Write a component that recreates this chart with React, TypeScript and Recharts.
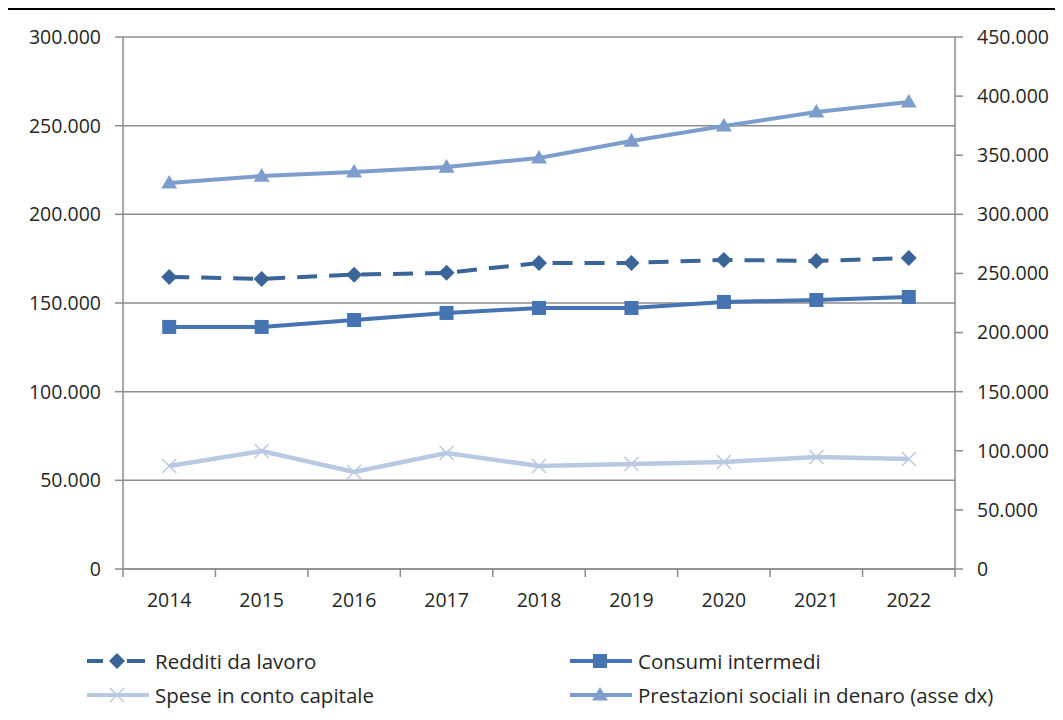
import React from 'react';
import { ComposedChart, Line, XAxis, YAxis, CartesianGrid } from 'recharts';

const years = ['2014', '2015', '2016', '2017', '2018', '2019', '2020', '2021', '2022'];
const redditiDaLavoro = [164700, 163600, 166000, 167000, 172600, 172600, 174300, 173700, 175400];
const consumiIntermedi = [136500, 136500, 140400, 144400, 147200, 147200, 150600, 151700, 153400];
const speseContoCapitale = [58100, 66500, 54700, 65400, 58100, 59200, 60300, 63200, 62000];
const prestazioniSociali = [326500, 332400, 335800, 340000, 347700, 362000, 374700, 386600, 395000];
const leftTicks = [0, 50000, 100000, 150000, 200000, 250000, 300000];
const rightTicks = [0, 50000, 100000, 150000, 200000, 250000, 300000, 350000, 400000, 450000];

const data = years.map((y, i) => ({
  year: y,
  redditi: redditiDaLavoro[i],
  consumi: consumiIntermedi[i],
  spese: speseContoCapitale[i],
  prestazioni: prestazioniSociali[i],
}));

const C_REDDITI = '#3B6598';
const C_CONSUMI = '#4673B1';
const C_SPESE = '#B9C9E1';
const C_PREST = '#7D9DCD';
const AXIS = '#8C8C8C';
const FONT = '"Open Sans", "DejaVu Sans", sans-serif';
const TEXT = '#262626';
const FS = 19.5;
const LFS = 20.5;

const fmt = (v: number) => String(v).replace(/\B(?=(\d{3})+(?!\d))/g, '.');

const Diamond = (props: any) => {
  const { cx, cy, fill } = props;
  if (cx == null || cy == null) return null;
  const r = 8;
  return <path d={`M${cx},${cy - r}L${cx + r},${cy}L${cx},${cy + r}L${cx - r},${cy}Z`} fill={fill} />;
};
const Square = (props: any) => {
  const { cx, cy, fill } = props;
  if (cx == null || cy == null) return null;
  const r = 7;
  return <rect x={cx - r} y={cy - r} width={2 * r} height={2 * r} fill={fill} />;
};
const Triangle = (props: any) => {
  const { cx, cy, fill } = props;
  if (cx == null || cy == null) return null;
  const r = 8;
  return <path d={`M${cx},${cy - r}L${cx + r},${cy + r * 0.7}L${cx - r},${cy + r * 0.7}Z`} fill={fill} />;
};
const Cross = (props: any) => {
  const { cx, cy, stroke } = props;
  if (cx == null || cy == null) return null;
  const r = 7;
  return (
    <g stroke={stroke} strokeWidth={1.5}>
      <line x1={cx - r} y1={cy - r} x2={cx + r} y2={cy + r} />
      <line x1={cx - r} y1={cy + r} x2={cx + r} y2={cy - r} />
    </g>
  );
};

const XTick = (props: any) => {
  const { x, y, payload, index } = props;
  const off = payload?.offset ?? 0;
  const axisY = y - 8;
  return (
    <g>
      <line x1={x - off} y1={axisY} x2={x - off} y2={axisY + 8} stroke={AXIS} strokeWidth={1.5} />
      {index === years.length - 1 && (
        <line x1={x + off} y1={axisY} x2={x + off} y2={axisY + 8} stroke={AXIS} strokeWidth={1.5} />
      )}
      <text x={x} y={y + 30} textAnchor="middle" fill={TEXT} fontSize={FS} fontFamily={FONT}>
        {payload.value}
      </text>
    </g>
  );
};

const legendItems = [
  { name: 'Redditi da lavoro', color: C_REDDITI, dash: '14 8', marker: 'diamond' },
  { name: 'Consumi intermedi', color: C_CONSUMI, dash: undefined, marker: 'square' },
  { name: 'Spese in conto capitale', color: C_SPESE, dash: undefined, marker: 'cross' },
  { name: 'Prestazioni sociali in denaro (asse dx)', color: C_PREST, dash: undefined, marker: 'triangle' },
];

const LegendSample = ({ item }: any) => {
  const cx = 30;
  const cy = 10;
  let m: any = null;
  if (item.marker === 'diamond') m = <Diamond cx={cx} cy={cy} fill={item.color} />;
  if (item.marker === 'square') m = <Square cx={cx} cy={cy} fill={item.color} />;
  if (item.marker === 'cross') m = <Cross cx={cx} cy={cy} stroke={item.color} />;
  if (item.marker === 'triangle') m = <Triangle cx={cx} cy={cy} fill={item.color} />;
  return (
    <svg width={62} height={20} style={{ display: 'block' }}>
      {item.dash ? (
        <g>
          <line x1={0} y1={cy} x2={16} y2={cy} stroke={item.color} strokeWidth={4} />
          <line x1={40} y1={cy} x2={58} y2={cy} stroke={item.color} strokeWidth={4} />
        </g>
      ) : (
        <line x1={0} y1={cy} x2={62} y2={cy} stroke={item.color} strokeWidth={4} />
      )}
      {m}
    </svg>
  );
};

export default function App() {
  return (
    <div style={{ position: 'relative', width: 1055, height: 704, fontFamily: FONT, background: '#fff' }}>
      <div style={{ position: 'absolute', left: -1, top: 0, width: 1056, height: 2, background: '#000' }} />
      <div style={{ position: 'absolute', left: 0, top: 0 }}>
        <ComposedChart width={1055} height={620} data={data} margin={{ top: 29, right: 0, left: 0, bottom: 0 }}>
          <CartesianGrid vertical={false} stroke={AXIS} strokeWidth={1.5} yAxisId="left" />
          <XAxis
            dataKey="year"
            scale="band"
            axisLine={{ stroke: AXIS, strokeWidth: 1.5 }}
            tickLine={false}
            tick={<XTick />}
            height={59}
            interval={0}
          />
          <YAxis
            yAxisId="left"
            orientation="left"
            domain={[0, 300000]}
            ticks={leftTicks}
            tickFormatter={fmt}
            width={115}
            axisLine={{ stroke: AXIS, strokeWidth: 1.5 }}
            tickLine={{ stroke: AXIS, strokeWidth: 1.5 }}
            tickSize={8}
            tickMargin={14}
            tick={{ fill: TEXT, fontSize: FS, fontFamily: FONT }}
            interval={0}
          />
          <YAxis
            yAxisId="right"
            orientation="right"
            domain={[0, 450000]}
            ticks={rightTicks}
            tickFormatter={fmt}
            width={108}
            axisLine={{ stroke: AXIS, strokeWidth: 1.5 }}
            tickLine={{ stroke: AXIS, strokeWidth: 1.5 }}
            tickSize={8}
            tickMargin={14}
            tick={{ fill: TEXT, fontSize: FS, fontFamily: FONT }}
            interval={0}
          />
          <Line
            yAxisId="left"
            dataKey="spese"
            stroke={C_SPESE}
            strokeWidth={4.5}
            dot={<Cross stroke={C_SPESE} />}
            isAnimationActive={false}
          />
          <Line
            yAxisId="left"
            dataKey="consumi"
            stroke={C_CONSUMI}
            strokeWidth={4}
            dot={<Square fill={C_CONSUMI} />}
            isAnimationActive={false}
          />
          <Line
            yAxisId="left"
            dataKey="redditi"
            stroke={C_REDDITI}
            strokeWidth={4}
            strokeDasharray="20 12"
            dot={<Diamond fill={C_REDDITI} />}
            isAnimationActive={false}
          />
          <Line
            yAxisId="right"
            dataKey="prestazioni"
            stroke={C_PREST}
            strokeWidth={4}
            dot={<Triangle fill={C_PREST} />}
            isAnimationActive={false}
          />
        </ComposedChart>
      </div>
      {legendItems.map((item, i) => {
        const col = i % 2;
        const row = Math.floor(i / 2);
        return (
          <div
            key={item.name}
            style={{
              position: 'absolute',
              left: col === 0 ? 79 : 562,
              top: 643 + row * 34,
              display: 'flex',
              alignItems: 'center',
              height: 20,
            }}
          >
            <LegendSample item={item} />
            <span style={{ marginLeft: 6, fontSize: LFS, color: TEXT, whiteSpace: 'nowrap', lineHeight: '20px' }}>
              {item.name}
            </span>
          </div>
        );
      })}
    </div>
  );
}
